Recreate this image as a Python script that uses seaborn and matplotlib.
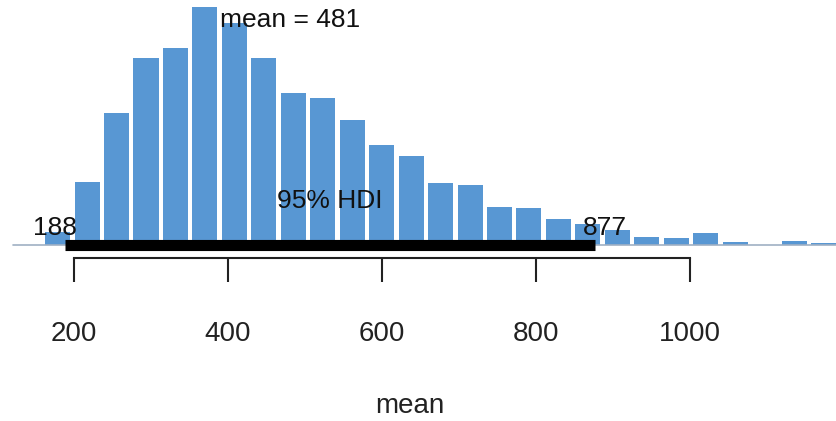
import numpy as np
import pandas as pd
import matplotlib
matplotlib.use("Agg")
import matplotlib.pyplot as plt
import seaborn as sns

# ---- data ----
hdi_low = 188
hdi_high = 877
mean_value = 481
bin_start = 121.3
bin_width = (hdi_high - hdi_low) / 18.0
counts = [0, 13, 63, 132, 187, 197, 238, 222, 187, 152, 147, 125, 100, 89,
          62, 60, 38, 37, 26, 21, 15, 8, 7, 12, 3, 0, 4, 2]
tick_values = [200, 400, 600, 800, 1000]
tick_labels = ["200", "400", "600", "800", "1000"]

edges = [bin_start + bin_width * i for i in range(len(counts) + 1)]
centers = [(edges[i] + edges[i + 1]) / 2 for i in range(len(counts))]
df = pd.DataFrame({"mean": centers, "count": counts})

sns.set_style("white")
plt.rcParams["font.family"] = ["Liberation Sans", "DejaVu Sans"]

W, H = 836, 421
base_px = 245
fig = plt.figure(figsize=(W / 100, H / 100), dpi=100)
ax = fig.add_axes([0, 1 - base_px / H, 1, base_px / H])

bar_color = "#5897D3"
sns.histplot(data=df, x="mean", weights="count", bins=edges, shrink=0.85,
             color=bar_color, alpha=1, linewidth=0, ax=ax)

# zero-level baseline across the histogram range
ax.plot([edges[0], edges[-1]], [0, 0], color="#9fb0c4", lw=1.2, zorder=1,
        clip_on=False)
# HDI bar
ax.plot([hdi_low, hdi_high], [0, 0], color="black", lw=8,
        solid_capstyle="butt", zorder=5, clip_on=False)

ax.set_xlim(103.8, 1190.2)
ax.set_ylim(0, base_px)

for s in ["left", "top", "right"]:
    ax.spines[s].set_visible(False)
ax.spines["bottom"].set_bounds(tick_values[0], tick_values[-1])
ax.spines["bottom"].set_position(("outward", 9))
ax.spines["bottom"].set_color("#222222")
ax.spines["bottom"].set_linewidth(1.5)

ax.set_xticks(tick_values)
ax.set_xticklabels(tick_labels)
ax.tick_params(axis="x", bottom=True, direction="out", length=17, width=1.5,
               pad=29, labelsize=20, colors="#222222")
ax.set_yticks([])
ax.set_ylabel("")
ax.set_xlabel("mean", fontsize=20, color="#222222")
ax.xaxis.set_label_coords(410 / W, (base_px - 406) / base_px)
ax.xaxis.label.set_va("center")

txt_kw = dict(fontsize=19, color="#111111", zorder=6)
ax.annotate(f"mean = {mean_value}", xy=(mean_value, base_px - 20),
            ha="center", va="center", **txt_kw)
ax.annotate("95% HDI", xy=((hdi_low + hdi_high) / 2, base_px - 201),
            ha="center", va="center", **txt_kw)
ax.annotate(f"{hdi_low}", xy=(hdi_low, base_px - 228), xytext=(-7, 0),
            textcoords="offset points", ha="center", va="center", **txt_kw)
ax.annotate(f"{hdi_high}", xy=(hdi_high, base_px - 228), xytext=(7, 0),
            textcoords="offset points", ha="center", va="center", **txt_kw)

fig.savefig("out.png", dpi=100, facecolor="white")
